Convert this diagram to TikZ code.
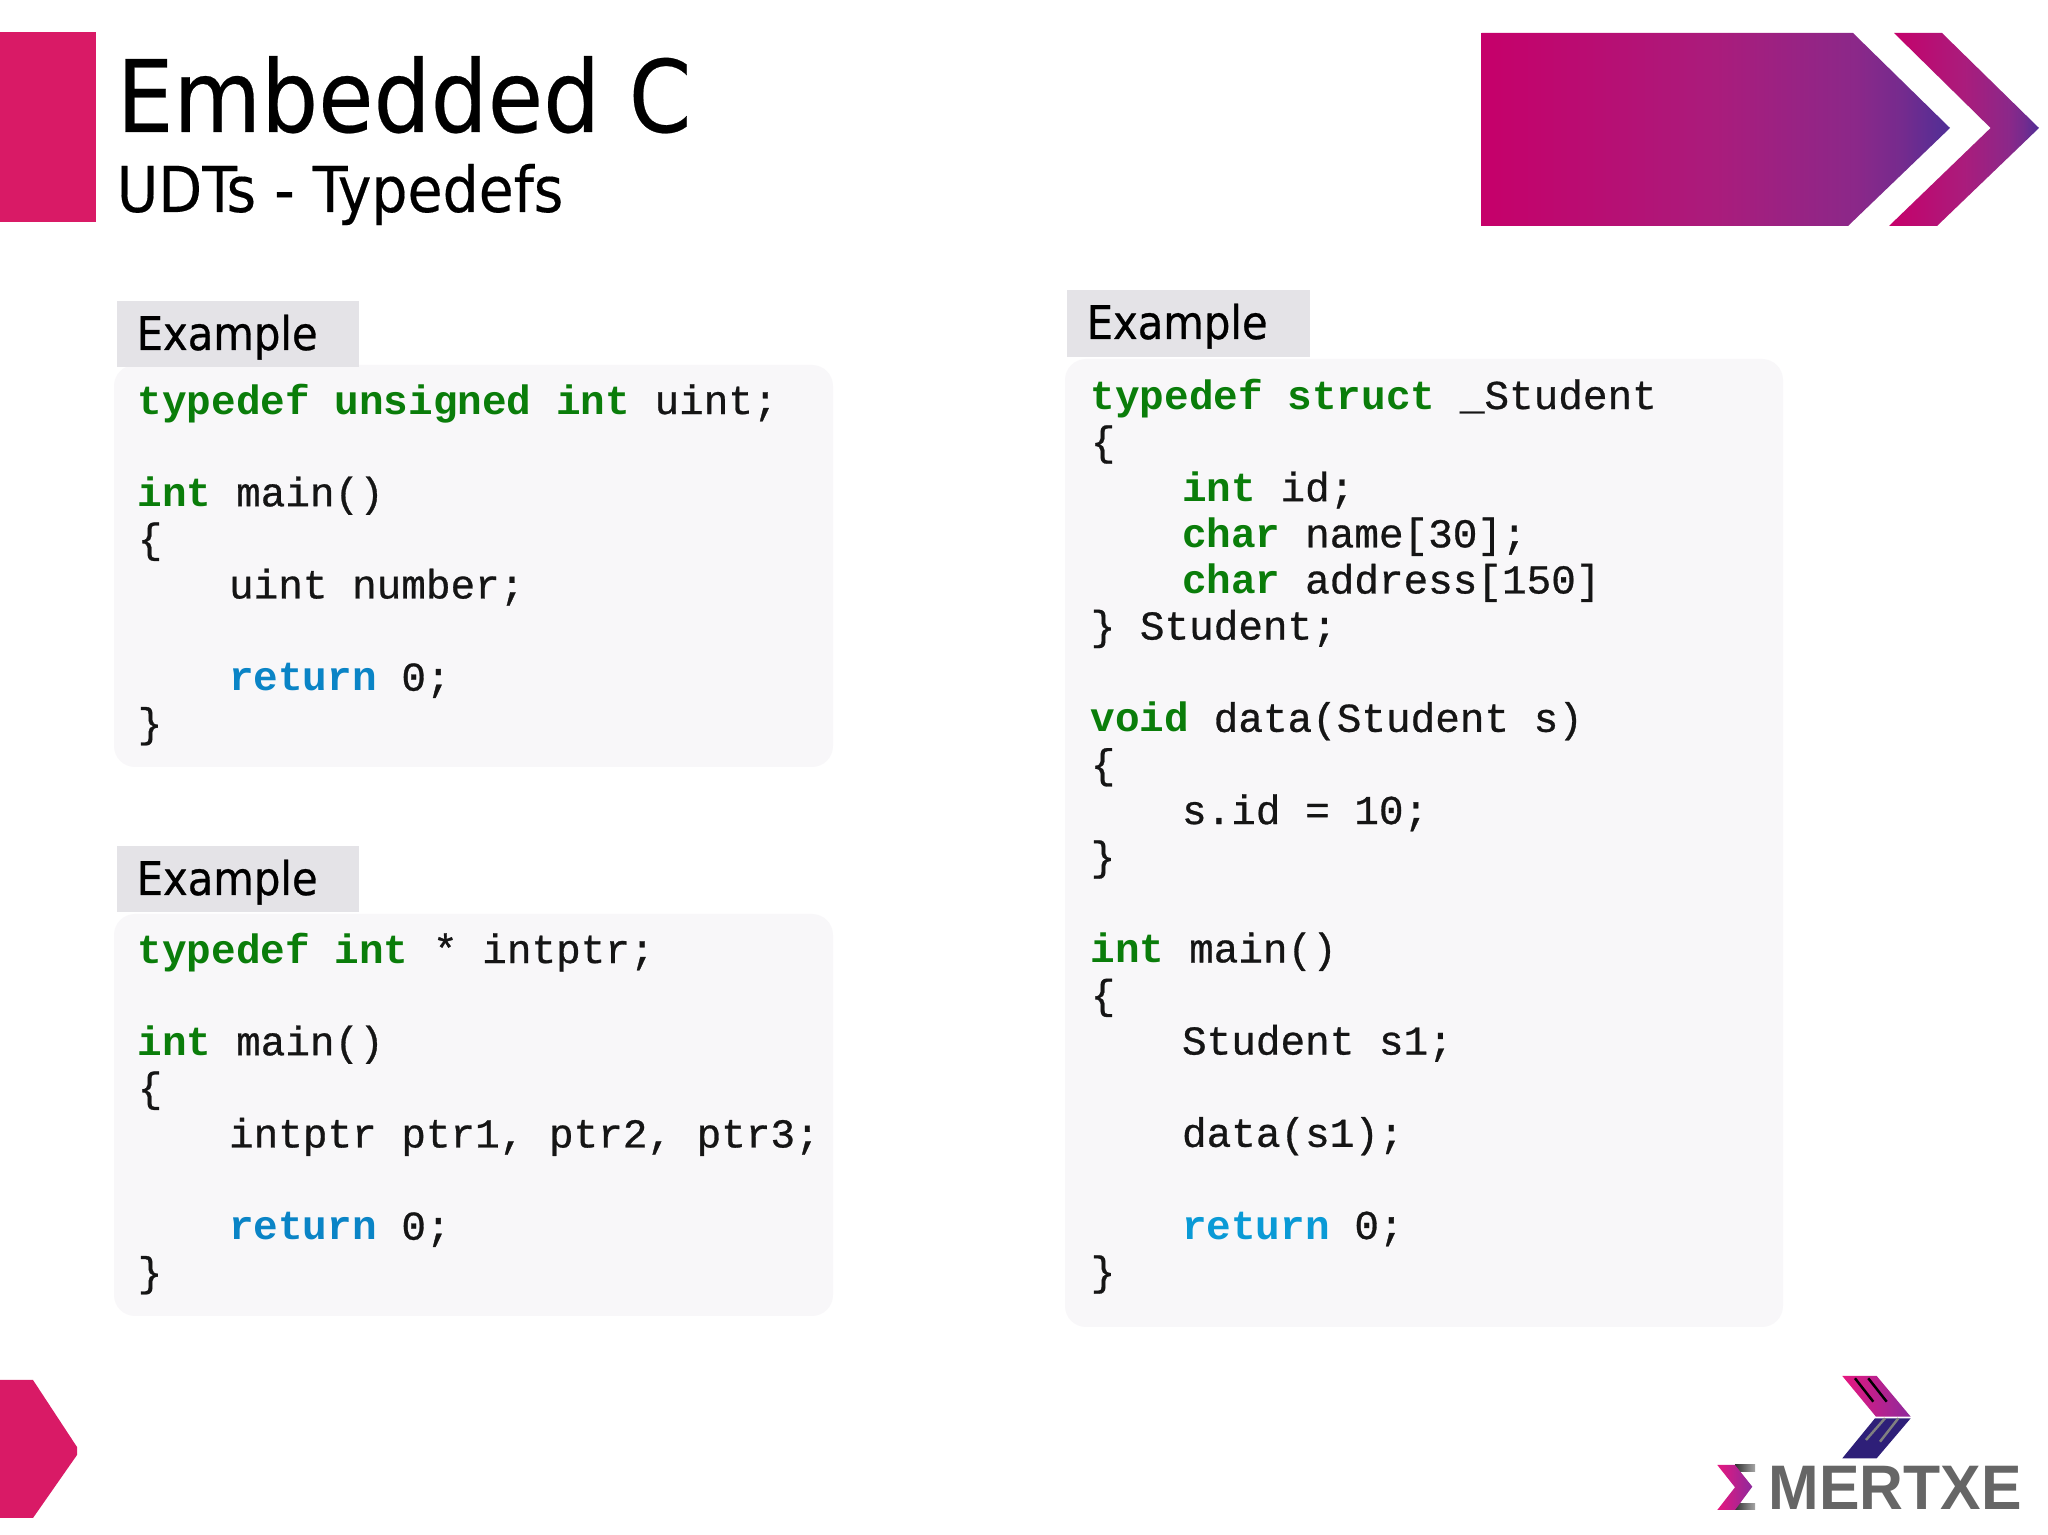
\documentclass[tikz,border=0pt]{standalone}
\usepackage{fontspec}
\setmainfont{DejaVu Sans Condensed}
\setmonofont[UprightFeatures={FakeBold=0.7}]{Liberation Mono}
\newfontfamily\logofont{Liberation Sans}
\newfontfamily\headfont[FakeBold=0.25]{DejaVu Sans Condensed}
\newfontfamily\tabfont[FakeBold=0.6]{DejaVu Sans Condensed}
\usetikzlibrary{calc,positioning}
\definecolor{slidepink}{HTML}{D91A66}
\definecolor{kwgreen}{HTML}{0A7D0A}
\definecolor{kwblue}{HTML}{0A84C6}
\definecolor{kwsky}{HTML}{0A9AD6}
\definecolor{codeink}{HTML}{151515}
\definecolor{panelgray}{HTML}{F8F7F9}
\definecolor{tabgray}{HTML}{E4E3E7}
\definecolor{logopink}{HTML}{E6177F}
\definecolor{logoviolet}{HTML}{8E2A9C}
\definecolor{logonavy}{HTML}{2E1F78}
\definecolor{gradred}{HTML}{C6006A}
\definecolor{gradmid}{HTML}{AA1C7C}
\definecolor{gradlate}{HTML}{8B2889}
\definecolor{gradtip}{HTML}{742B8E}
\definecolor{gradend}{HTML}{4F2F96}
\pgfdeclarehorizontalshading{bannergrad}{100bp}{
  color(0bp)=(gradred); color(25bp)=(gradred);
  color(50bp)=(gradmid); color(65bp)=(gradlate); color(70bp)=(gradtip);
  color(75bp)=(gradend); color(100bp)=(gradend)}
\def\kwgreen(#1){\textcolor{kwgreen}{\bfseries #1}}
\def\kwblue(#1){\textcolor{kwblue}{\bfseries #1}}
\def\kwsky(#1){\textcolor{kwsky}{\bfseries #1}}
\def\ind{\hspace*{26pt}}
\tikzset{
  panel/.style={fill=panelgray,rounded corners=6pt},
  tabbox/.style={fill=tabgray},
  tabtext/.style={anchor=base west,inner sep=0pt,font=\fontsize{13.2}{15}\tabfont},
  code/.style={anchor=north west,inner sep=0pt,align=left,text=codeink,
    font=\fontsize{11.67}{13.12}\selectfont\ttfamily}
}
\begin{document}
\begin{tikzpicture}
\useasboundingbox (0,0) rectangle (20.48,15.35);
\fill [white] (0,0) rectangle (20.48,15.35);
% header
\fill [slidepink] (0,13.13) rectangle (0.96,15.03);
\node (title) [anchor=base west,inner sep=0pt,font=\fontsize{28.45}{30}\headfont] at (1.16,14.03) {Embedded C};
\node (subtitle) [anchor=base west,inner sep=0pt,font=\fontsize{18}{20}\headfont] at (1.16,13.23) {UDTs - Typedefs};
\shade [shading=bannergrad] (14.815,15.02) -- (18.53,15.02) -- (19.50,14.07) -- (18.48,13.09) -- (14.815,13.09) -- cycle;
\shade [shading=bannergrad] (18.94,15.02) -- (19.42,15.02) -- (20.39,14.07) -- (19.37,13.09) -- (18.89,13.09) -- (19.906,14.07) -- cycle;
% left blocks
\fill [panel] (1.14,7.68) rectangle (8.33,11.70);
\fill [tabbox] (1.17,11.68) rectangle (3.59,12.34);
\node (ex1) [tabtext] at (1.36,11.85) {Example};
\node (code1) [code] at (1.37,11.52) {\kwgreen(typedef unsigned int) uint;\\
\mbox{}\\
\kwgreen(int) main()\\
\{\\
\ind uint number;\\
\mbox{}\\
\ind\kwblue(return) 0;\\
\}};
\fill [panel] (1.14,2.19) rectangle (8.33,6.21);
\fill [tabbox] (1.17,6.23) rectangle (3.59,6.89);
\node (ex2) [tabtext] at (1.36,6.40) {Example};
\node (code2) [code] at (1.37,6.03) {\kwgreen(typedef int) * intptr;\\
\mbox{}\\
\kwgreen(int) main()\\
\{\\
\ind intptr ptr1, ptr2, ptr3;\\
\mbox{}\\
\ind\kwblue(return) 0;\\
\}};
% right block
\fill [panel] (10.65,2.08) rectangle (17.83,11.76);
\fill [tabbox] (10.67,11.78) rectangle (13.10,12.45);
\node (ex3) [tabtext] at (10.86,11.96) {Example};
\node (code3) [code] at (10.90,11.57) {\kwgreen(typedef struct) \_Student\\
\{\\
\ind\kwgreen(int) id;\\
\ind\kwgreen(char) name[30];\\
\ind\kwgreen(char) address[150]\\
\} Student;\\
\mbox{}\\
\kwgreen(void) data(Student s)\\
\{\\
\ind s.id = 10;\\
\}\\
\mbox{}\\
\kwgreen(int) main()\\
\{\\
\ind Student s1;\\
\mbox{}\\
\ind data(s1);\\
\mbox{}\\
\ind\kwsky(return) 0;\\
\}};
% bottom left mark
\fill [slidepink] (0,1.55) -- (0.33,1.55) -- (0.77,0.88) -- (0.77,0.80) -- (0.33,0.17) -- (0,0.17) -- cycle;
% logo
\shade [left color=logopink,right color=logoviolet] (18.423,1.59) -- (18.767,1.59) -- (19.107,1.183) -- (18.76,1.183) -- cycle;
\fill [logonavy] (19.107,1.167) -- (18.767,0.767) -- (18.423,0.767) -- (18.75,1.167) -- cycle;
\draw [black,line width=0.7pt] (18.55,1.567)--(18.733,1.333);
\draw [black,line width=0.7pt] (18.683,1.567)--(18.867,1.333);
\draw [gray,line width=0.7pt] (18.85,1.167)--(18.66,0.95);
\draw [gray,line width=0.7pt] (18.983,1.167)--(18.8,0.933);
\shade [left color=black!80,right color=gray!70] (17.35,0.70) rectangle (17.55,0.633);
\shade [left color=black!80,right color=gray!70] (17.35,0.317) rectangle (17.55,0.25);
\shade [left color=logopink,right color=logoviolet] (17.173,0.70) -- (17.35,0.70) -- (17.523,0.483) -- (17.35,0.25) -- (17.173,0.25) -- (17.35,0.477) -- cycle;
\node (logotext) [anchor=base west,inner sep=0pt,text=black!60,xscale=0.965,font=\fontsize{17.9}{20}\selectfont\logofont\bfseries] at (17.68,0.25) {MERTXE};
\end{tikzpicture}
\end{document}
